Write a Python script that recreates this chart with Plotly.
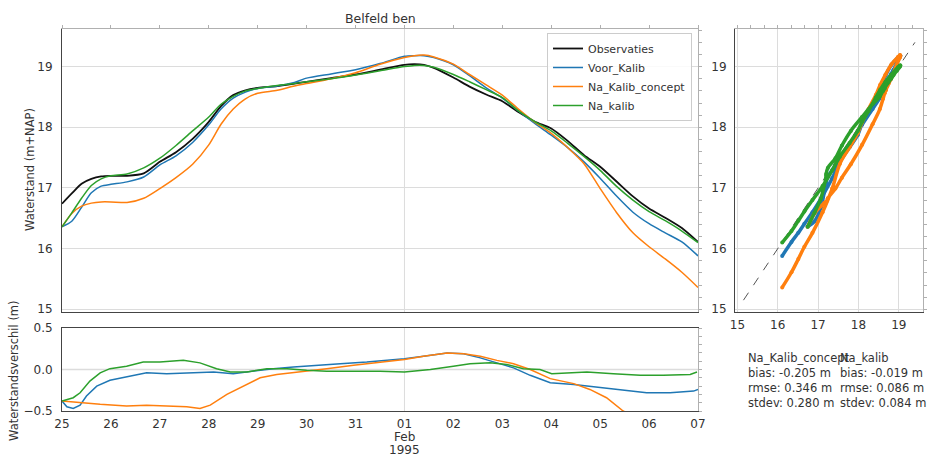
import pandas as pd
import plotly.graph_objects as go

# ---------------- data ----------------
t0 = pd.Timestamp("1995-01-25")

# sample times (days since 25 Jan 1995) for the water-level series
days = [0, 0.2, 0.4, 0.6, 0.8, 1.0, 1.33, 1.67, 2.0, 2.33, 2.67, 3.0, 3.25, 3.5, 3.75,
        4.0, 4.4, 4.75, 5.0, 5.5, 6.0, 6.5, 7.0, 7.2, 7.4, 7.6, 8.0, 8.33, 8.67, 9.0,
        9.33, 9.67, 10.0, 10.33, 10.67, 11.0, 11.33, 11.67, 12.0, 12.33, 12.67, 13.0]

observaties = [16.74, 16.91, 17.07, 17.15, 17.19, 17.20, 17.20, 17.24, 17.43, 17.59, 17.81,
               18.09, 18.35, 18.53, 18.61, 18.65, 18.68, 18.72, 18.75, 18.81, 18.87, 18.95,
               19.03, 19.04, 19.03, 18.98, 18.82, 18.67, 18.54, 18.43, 18.25, 18.09, 17.98,
               17.78, 17.54, 17.35, 17.11, 16.86, 16.66, 16.51, 16.34, 16.11]
voor_kalib = [16.36, 16.45, 16.68, 16.92, 17.03, 17.06, 17.10, 17.18, 17.38, 17.53, 17.75,
              18.04, 18.30, 18.48, 18.58, 18.64, 18.68, 18.74, 18.81, 18.88, 18.95, 19.05,
              19.17, 19.18, 19.18, 19.15, 19.03, 18.85, 18.65, 18.48, 18.27, 18.06, 17.87,
              17.67, 17.43, 17.16, 16.87, 16.60, 16.41, 16.26, 16.11, 15.88]
na_kalib_concept = [16.36, 16.58, 16.70, 16.75, 16.77, 16.77, 16.76, 16.83, 16.99, 17.17, 17.39,
                    17.71, 18.05, 18.30, 18.47, 18.56, 18.61, 18.68, 18.72, 18.80, 18.90, 19.04,
                    19.15, 19.18, 19.19, 19.16, 19.04, 18.87, 18.70, 18.53, 18.30, 18.08, 17.90,
                    17.67, 17.40, 16.99, 16.60, 16.26, 16.03, 15.83, 15.61, 15.36]
na_kalib = [16.36, 16.59, 16.83, 17.04, 17.15, 17.20, 17.23, 17.33, 17.49, 17.70, 17.94,
            18.17, 18.38, 18.51, 18.60, 18.64, 18.69, 18.72, 18.75, 18.80, 18.86, 18.93,
            19.00, 19.02, 19.02, 18.99, 18.87, 18.75, 18.62, 18.49, 18.27, 18.09, 17.94,
            17.74, 17.52, 17.29, 17.03, 16.80, 16.61, 16.46, 16.29, 16.10]

# differences (model - observation), each with its own sample times
diff_days_voor = [0.0, 0.1, 0.23, 0.37, 0.5, 0.71, 0.98, 1.32, 1.73, 2.14, 2.69, 3.1, 3.5, 3.91,
                  4.32, 4.73, 5.14, 5.69, 6.23, 6.67, 7.0, 7.39, 7.87, 8.21, 8.55, 8.89, 9.23,
                  9.57, 9.98, 10.46, 10.93, 11.41, 11.95, 12.43, 12.91, 13.0]
diff_voor = [-0.38, -0.45, -0.47, -0.43, -0.32, -0.20, -0.13, -0.09, -0.04, -0.05, -0.04, -0.03,
             -0.05, -0.02, 0.01, 0.03, 0.05, 0.07, 0.09, 0.11, 0.13, 0.16, 0.20, 0.19, 0.14,
             0.08, 0.02, -0.07, -0.16, -0.18, -0.21, -0.24, -0.28, -0.28, -0.26, -0.24]
diff_days_concept = [0.0, 0.37, 0.78, 1.32, 1.73, 2.14, 2.55, 2.82, 3.03, 3.37, 3.71, 4.05, 4.39,
                     4.87, 5.41, 5.96, 6.5, 7.0, 7.39, 7.87, 8.21, 8.55, 8.89, 9.23, 9.57, 9.98,
                     10.46, 10.79, 11.13, 11.47, 12.0, 13.0]
diff_concept = [-0.38, -0.40, -0.42, -0.44, -0.43, -0.44, -0.45, -0.47, -0.43, -0.30, -0.20, -0.10,
                -0.06, -0.03, 0.01, 0.05, 0.09, 0.12, 0.16, 0.20, 0.19, 0.16, 0.11, 0.07, 0.00,
                -0.11, -0.17, -0.24, -0.34, -0.50, -0.65, -0.80]
diff_days_kalib = [0.0, 0.23, 0.37, 0.57, 0.78, 0.98, 1.32, 1.66, 2.0, 2.48, 2.82, 3.16, 3.44, 3.78,
                   4.19, 4.6, 5.0, 5.41, 5.96, 6.5, 7.0, 7.53, 8.0, 8.34, 8.75, 9.09, 9.43, 9.77,
                   10.01, 10.32, 10.73, 11.27, 11.82, 12.29, 12.84, 12.98]
diff_kalib = [-0.38, -0.34, -0.28, -0.14, -0.04, 0.01, 0.04, 0.09, 0.09, 0.11, 0.08, 0.01, -0.03,
              -0.03, 0.01, 0.01, -0.01, -0.02, -0.02, -0.02, -0.03, 0.00, 0.04, 0.07, 0.08, 0.06,
              0.01, 0.00, -0.05, -0.04, -0.03, -0.05, -0.07, -0.07, -0.06, -0.03]

one_to_one = [15.15, 19.4]

x_tick_days = list(range(0, 14))
x_tick_text = ["25", "26", "27", "28", "29", "30", "31", "01",
               "02", "03", "04", "05", "06", "07"]
month_label, year_label = "Feb", "1995"
y_ticks = [15, 16, 17, 18, 19]
diff_ticks = [-0.5, 0.0, 0.5]
diff_tick_text = ["\u22120.5", "0.0", "0.5"]

stat_names = ["Na_Kalib_concept", "Na_kalib"]
stat_bias = [-0.205, -0.019]
stat_rmse = [0.346, 0.086]
stat_stdev = [0.280, 0.084]

# ---------------- styling ----------------
W, H = 931, 456
FONT = "DejaVu Sans"
TXT = "#333333"
GRID = "#dcdcdc"
SPINE = "#444444"
LIGHT = "#b0b0b0"
C_OBS, C_VOOR, C_CONC, C_KAL = "#111111", "#1f77b4", "#ff7f0e", "#2ca02c"


def px_x(p):
    return p / W


def px_y(p):
    return 1 - p / H


def to_time(d):
    return t0 + pd.to_timedelta(d, unit="D")


times = [to_time(d) for d in days]

fig = go.Figure()

series = [("Observaties", observaties, C_OBS, 1.8),
          ("Voor_Kalib", voor_kalib, C_VOOR, 1.5),
          ("Na_Kalib_concept", na_kalib_concept, C_CONC, 1.5),
          ("Na_kalib", na_kalib, C_KAL, 1.5)]
for name, vals, col, w in series:
    fig.add_trace(go.Scatter(x=times, y=vals, name=name, mode="lines",
                             line=dict(color=col, width=w, shape="spline", smoothing=0.7),
                             xaxis="x", yaxis="y"))

diff_times_concept = [to_time(d) for d in diff_days_concept]
for dd, vv, col in [([to_time(d) for d in diff_days_voor], diff_voor, C_VOOR),
                    (diff_times_concept, diff_concept, C_CONC),
                    ([to_time(d) for d in diff_days_kalib], diff_kalib, C_KAL)]:
    fig.add_trace(go.Scatter(x=dd, y=vv, mode="lines",
                             line=dict(color=col, width=1.5), showlegend=False,
                             xaxis="x2", yaxis="y2"))

# scatter obs vs model
fig.add_trace(go.Scatter(x=one_to_one, y=one_to_one, mode="lines", showlegend=False,
                         line=dict(color="#555555", width=1, dash="dash"),
                         xaxis="x3", yaxis="y3"))
for vals, col in [(voor_kalib, C_VOOR), (na_kalib_concept, C_CONC), (na_kalib, C_KAL)]:
    fig.add_trace(go.Scatter(x=observaties, y=vals, mode="lines+markers", showlegend=False,
                             line=dict(color=col, width=3.5, shape="spline"),
                             marker=dict(color=col, size=4),
                             xaxis="x3", yaxis="y3"))

# invisible carriers so that the twin (top/right) axes get drawn
hidden = dict(mode="lines", opacity=0, showlegend=False, hoverinfo="skip",
              line=dict(width=0.1, color="white"))
fig.add_trace(go.Scatter(x=times, y=observaties, xaxis="x4", yaxis="y", **hidden))
fig.add_trace(go.Scatter(x=times, y=observaties, xaxis="x", yaxis="y4", **hidden))
fig.add_trace(go.Scatter(x=diff_times_concept, y=diff_concept, xaxis="x5", yaxis="y2", **hidden))
fig.add_trace(go.Scatter(x=diff_times_concept, y=diff_concept, xaxis="x2", yaxis="y5", **hidden))
fig.add_trace(go.Scatter(x=observaties, y=na_kalib, xaxis="x6", yaxis="y3", **hidden))
fig.add_trace(go.Scatter(x=observaties, y=na_kalib, xaxis="x3", yaxis="y6", **hidden))

t_start, t_end = to_time(0), to_time(13)
tick_times = [to_time(d) for d in x_tick_days]

dom_x_left = [px_x(62), px_x(698)]
dom_y_top = [px_y(312), px_y(29)]
dom_y_bot = [px_y(411), px_y(328)]
dom_x_right = [px_x(735), px_x(923)]

axis_common = dict(showline=True, linecolor=SPINE, linewidth=1, zeroline=False,
                   automargin=False,
                   tickfont=dict(family=FONT, size=12, color=TXT))
axis_nofont = {k: v for k, v in axis_common.items() if k != "tickfont"}

# decorative twin axes (top / right spines with small ticks)
deco = dict(showline=True, linecolor=LIGHT, linewidth=1, showgrid=False, zeroline=False,
            showticklabels=False, ticks="outside", ticklen=3, tickcolor=LIGHT, automargin=False)

fig.update_layout(
    width=W, height=H, margin=dict(l=0, r=0, t=0, b=0, autoexpand=False),
    paper_bgcolor="white", plot_bgcolor="white",
    font=dict(family=FONT, color=TXT),
    xaxis=dict(domain=dom_x_left, anchor="y", range=[t_start, t_end], type="date",
               tickvals=tick_times, showticklabels=False, showgrid=False,
               ticks="", **axis_nofont),
    yaxis=dict(domain=dom_y_top, anchor="x", range=[14.955, 19.62], tickvals=y_ticks,
               gridcolor=GRID, gridwidth=1, ticks="", ticklabelstandoff=6,
               **axis_common),
    xaxis2=dict(domain=dom_x_left, anchor="y2", range=[t_start, t_end], type="date",
                tickvals=tick_times, ticktext=x_tick_text, showgrid=False,
                ticks="", ticklabelstandoff=2, **axis_common),
    yaxis2=dict(domain=dom_y_bot, anchor="x2", range=[-0.5, 0.5], tickvals=diff_ticks,
                ticktext=diff_tick_text, showgrid=False, ticks="",
                ticklabelstandoff=6, **axis_common),
    xaxis3=dict(domain=dom_x_right, anchor="y3", range=[14.94, 19.6], tickvals=y_ticks,
                gridcolor=GRID, ticks="", ticklabelstandoff=2, **axis_common),
    yaxis3=dict(domain=dom_y_top, anchor="x3", range=[14.955, 19.62], tickvals=y_ticks,
                gridcolor=GRID, ticks="", ticklabelstandoff=5, **axis_common),
    # twins
    xaxis4=dict(overlaying="x", side="top", anchor="y", range=[t_start, t_end], type="date",
                tickvals=tick_times, **deco),
    yaxis4=dict(overlaying="y", side="right", anchor="x", range=[14.955, 19.62],
                tick0=15, dtick=0.2, **deco),
    xaxis5=dict(overlaying="x2", side="top", anchor="y2", range=[t_start, t_end], type="date",
                tickvals=tick_times, **dict(deco, linecolor=SPINE, ticks="")),
    yaxis5=dict(overlaying="y2", side="right", anchor="x2", range=[-0.5, 0.5],
                tick0=-0.5, dtick=0.1, **deco),
    xaxis6=dict(overlaying="x3", side="top", anchor="y3", range=[14.94, 19.6],
                tick0=15, dtick=1 / 3, **deco),
    yaxis6=dict(overlaying="y3", side="right", anchor="x3", range=[14.955, 19.62],
                tick0=15, dtick=0.2, **deco),
    legend=dict(x=px_x(692), xanchor="right", y=px_y(33), yanchor="top",
                bgcolor="rgba(255,255,255,0.85)", bordercolor="#cccccc", borderwidth=1,
                font=dict(family=FONT, size=11, color=TXT), tracegroupgap=0),
    showlegend=True,
)

# grid lines only where matplotlib draws them (Feb 01 vertical, 0.0 horizontal)
feb1 = to_time(7)
for xr, yref in [("x", "y domain"), ("x2", "y2 domain")]:
    fig.add_shape(type="line", xref=xr, yref=yref, x0=feb1, x1=feb1, y0=0, y1=1,
                  line=dict(color=GRID, width=1), layer="below")
fig.add_shape(type="line", xref="x2 domain", yref="y2", x0=0, x1=1, y0=0, y1=0,
              line=dict(color=GRID, width=1.5), layer="below")

annotations = [
    dict(text="Belfeld ben", x=px_x(380), y=px_y(19), xref="paper", yref="paper",
         xanchor="center", yanchor="middle",
         showarrow=False, font=dict(family=FONT, size=12.5, color=TXT)),
    dict(text="Waterstand (m+NAP)", x=px_x(30), y=px_y(170), xref="paper", yref="paper",
         xanchor="center", yanchor="middle",
         textangle=-90, showarrow=False, font=dict(family=FONT, size=11.5, color=TXT)),
    dict(text="Waterstandsverschil (m)", x=px_x(14), y=px_y(371), xref="paper", yref="paper",
         xanchor="center", yanchor="middle",
         textangle=-90, showarrow=False, font=dict(family=FONT, size=11.5, color=TXT)),
    dict(text=month_label, x=feb1, y=px_y(437), xref="x2", yref="paper",
         xanchor="center", yanchor="middle",
         showarrow=False, font=dict(family=FONT, size=12, color=TXT)),
    dict(text=year_label, x=feb1, y=px_y(450), xref="x2", yref="paper",
         xanchor="center", yanchor="middle",
         showarrow=False, font=dict(family=FONT, size=12, color=TXT)),
]
col_x = [746, 838]
for i, name in enumerate(stat_names):
    txt = (f"{name}<br>bias: {stat_bias[i]:.3f} m<br>rmse: {stat_rmse[i]:.3f} m"
           f"<br>stdev: {stat_stdev[i]:.3f} m")
    annotations.append(dict(text=txt, x=px_x(col_x[i]), y=px_y(349), xref="paper",
                            yref="paper", xanchor="left", yanchor="top", align="left",
                            showarrow=False, font=dict(family=FONT, size=11.5, color=TXT)))
fig.update_layout(annotations=annotations)

fig.write_html("out.html", config={"displayModeBar": False},
               post_script="document.body.style.margin='0';")
